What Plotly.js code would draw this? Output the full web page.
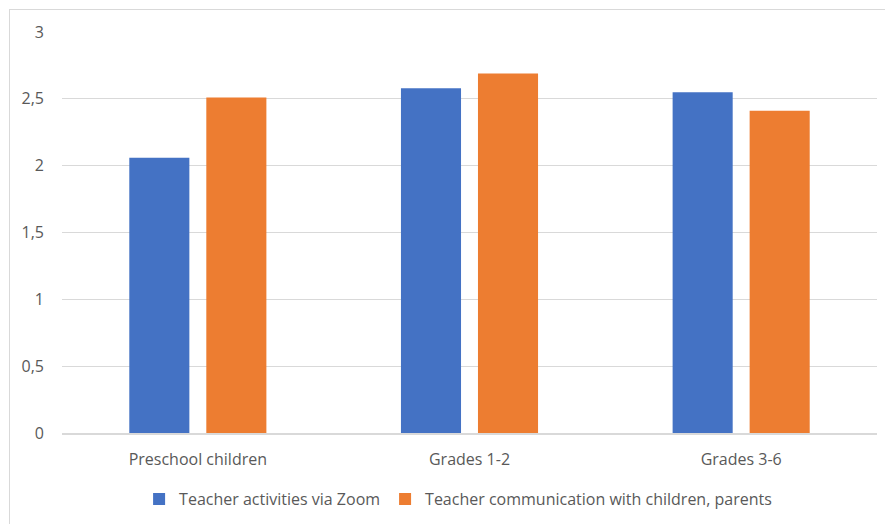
<!DOCTYPE html>
<html>
<head>
<meta charset="utf-8">
<script src="https://cdn.plot.ly/plotly-3.0.1.min.js"></script>
<style>
  html, body { margin: 0; padding: 0; background: #ffffff; }
  #frame { position: absolute; left: 9px; top: 9px; width: 900px; height: 540px;
           border-left: 1px solid #d9d9d9; border-top: 1px solid #d9d9d9; pointer-events: none; z-index: 5; }
  #chart { width: 885px; height: 524px; }
</style>
</head>
<body>
<div id="frame"></div>
<div id="chart"></div>
<script>
const categories = ["Preschool children", "Grades 1-2", "Grades 3-6"];
const seriesNames = ["Teacher activities via Zoom", "Teacher communication with children, parents"];
const zoomValues = [2.06, 2.58, 2.55];
const communicationValues = [2.51, 2.69, 2.41];
const colors = ["#4472c4", "#ed7d31"];
const yTicks = [0, 0.5, 1, 1.5, 2, 2.5, 3];

const font = { family: "'Open Sans', 'Noto Sans', sans-serif", size: 16, color: "#595959" };

const traces = [
  { type: "bar", name: seriesNames[0], x: categories, y: zoomValues,
    marker: { color: colors[0] }, hoverinfo: "skip" },
  { type: "bar", name: seriesNames[1], x: categories, y: communicationValues,
    marker: { color: colors[1] }, hoverinfo: "skip" }
];

const layout = {
  width: 885, height: 524,
  margin: { l: 62, r: 8, t: 32, b: 91 },
  paper_bgcolor: "#ffffff", plot_bgcolor: "#ffffff",
  font: font,
  separators: ",.",
  barmode: "group",
  bargap: 0.433,
  bargroupgap: 0.22,
  xaxis: {
    type: "category",
    showgrid: false, zeroline: false,
    showline: true, linecolor: "#d9d9d9", linewidth: 1.5,
    ticks: "", tickfont: font, ticklabelstandoff: 11
  },
  yaxis: {
    range: [0, 3],
    tickvals: yTicks,
    showgrid: true, gridcolor: "#d9d9d9", gridwidth: 1.3,
    zeroline: false, showline: false, ticks: "",
    tickfont: font, ticklabelstandoff: 17
  },
  showlegend: true,
  legend: {
    orientation: "h", x: 0.486, xanchor: "center", y: -0.165, yanchor: "middle",
    font: font, traceorder: "normal", itemwidth: 30
  }
};

Plotly.newPlot("chart", traces, layout, { displayModeBar: false, staticPlot: true });
</script>
</body>
</html>
